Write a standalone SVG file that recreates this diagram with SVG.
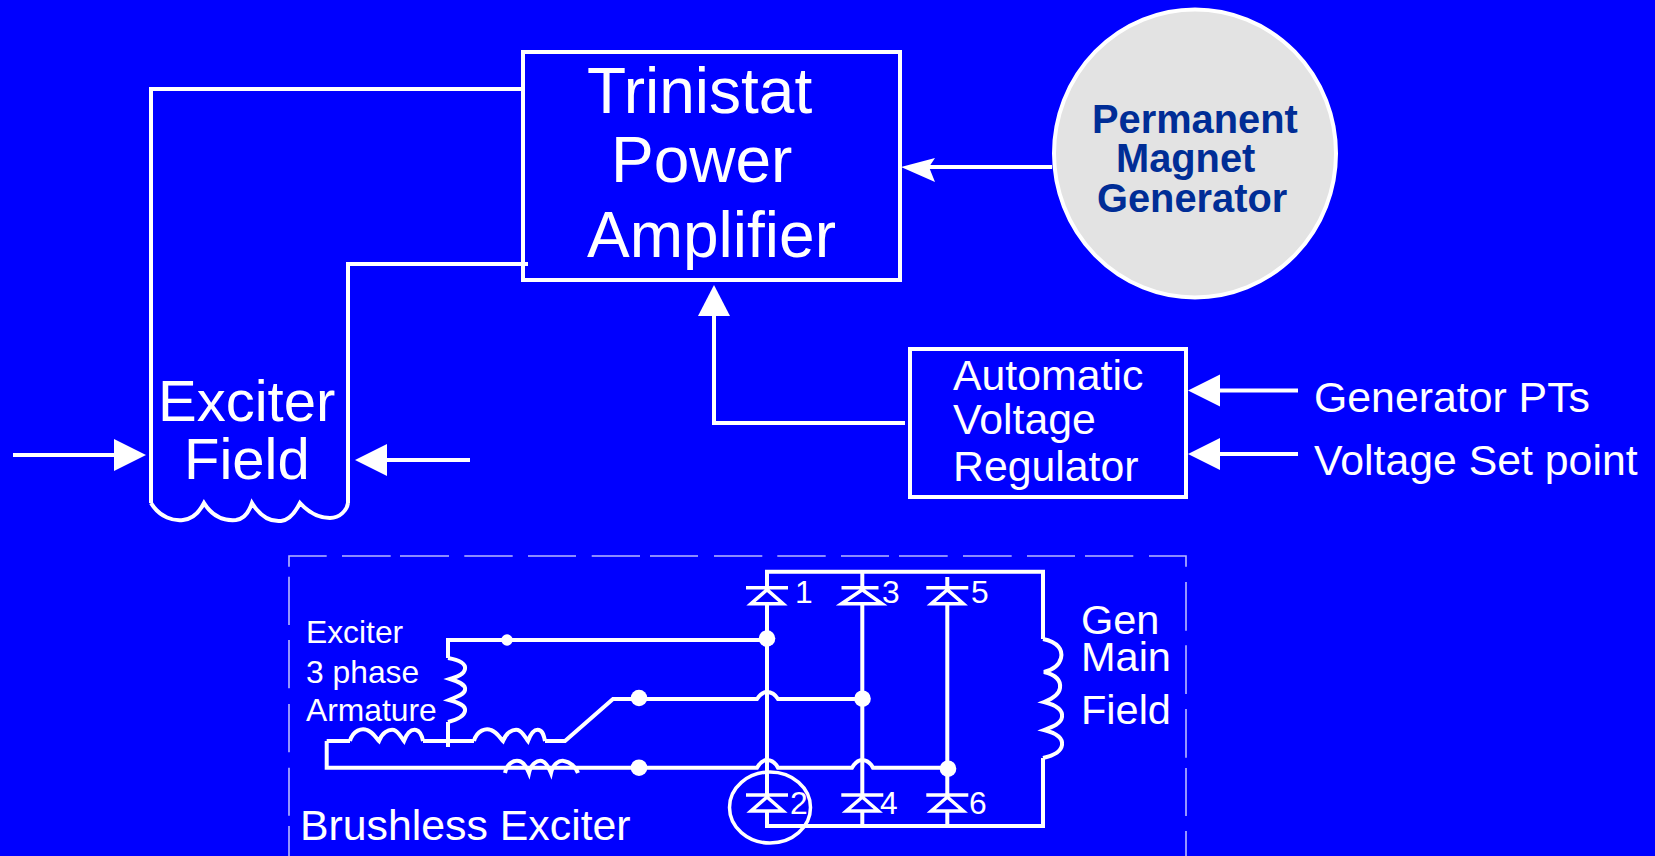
<svg xmlns="http://www.w3.org/2000/svg" width="1655" height="856" viewBox="0 0 1655 856">
<style>
text{font-family:"Liberation Sans",Arial,sans-serif;fill:#fff}
.b{fill:none;stroke:#fff;stroke-width:4}
.w{fill:none;stroke:#fff;stroke-width:4;stroke-linejoin:miter}
.t{fill:none;stroke:#fff;stroke-width:3.5}
.h{fill:#fff;stroke:none}
.d{fill:#fff;stroke:none}
.dash{fill:none;stroke:#b9b9ff;stroke-width:1.6}
.f63{font-size:64px}.f57{font-size:58px}.f42{font-size:42.800px}.f40{font-size:41.500px}.f31{font-size:31.800px}
.pm{font-size:39.800px;font-weight:bold;fill:#002d96}
</style>
<rect width="1655" height="856" fill="#0000ff"/>
<defs>
<g id="diode"><path class="t" d="M-21 0H21M0 2L-16 16H16Z"/></g>
</defs>

<g id="connectors">
<path class="w" d="M523 89H151V503M528 264H348V503"/>
<path class="w" d="M13 455H116M470 460H385"/>
<path class="h" d="M114 439L146 455L114 471ZM387 444L355 460L387 476Z"/>
<path class="w" d="M1052 167H925"/>
<path class="h" d="M901 167L935 158L929 167L935 182Z"/>
<path class="w" d="M905 423H714V314"/>
<path class="h" d="M714 285L730 316H698Z"/>
<path class="w" d="M1298 390.500H1218M1298 454H1218"/>
<path class="h" d="M1188 390.500L1220 374.500V406.500ZM1188 454L1220 438V470Z"/>
</g>

<g id="trinistat">
<rect class="b" x="523" y="52" width="377" height="228"/>
<text class="f63" x="587" y="113">Trinistat</text>
<text class="f63" x="611" y="182">Power</text>
<text class="f63" x="587" y="257">Amplifier</text>
</g>

<g id="pmg">
<ellipse cx="1195" cy="153.500" rx="141" ry="144" fill="#e3e3e3" stroke="#fff" stroke-width="4"/>
<text class="pm" x="1092" y="133">Permanent</text>
<text class="pm" x="1116" y="172">Magnet</text>
<text class="pm" x="1097" y="212">Generator</text>
</g>

<g id="avr">
<rect class="b" x="910" y="349" width="276" height="148"/>
<text class="f42" x="953" y="390">Automatic</text>
<text class="f42" x="953" y="434">Voltage</text>
<text class="f42" x="953" y="481">Regulator</text>
</g>

<g id="inputs">
<text class="f42" x="1314" y="412">Generator PTs</text>
<text class="f42" x="1314" y="475">Voltage Set point</text>
</g>

<g id="exciter-field">
<path class="b" d="M151 503C160 518 174 521 183 520C192 519 199 513 204 503C212 516 224 521 236 520C244 519 249 512 252 503C260 516 270 522 281 521C290 520 296 511 300 503C310 514 320 518 330 518C340 518 347 510 348 503"/>
<text class="f57" x="158" y="421">Exciter</text>
<text class="f57" x="184" y="479">Field</text>
</g>

<g id="brushless-exciter">
<path class="dash" d="M289 566.700V556H326.700M342 556H390.700M400 556H449M464.300 556H512.700M528 556H576M591.700 556H640M650 556H698M714 556H762.300M777.300 556H825.700M841 556H889M899 556H947.700M963 556H1011.700M1027 556H1075M1085 556H1133.300M1149 556H1186V566.700M289 576.700V625M289 640V688.300M289 704V752.300M289 767.700V815.700M289 826V856M1186 582V630.700M1186 645.300V694M1186 709V757.700M1186 768V816M1186 831V856"/>
<path class="w" d="M767 590V571.700H1043V639M1043 758V826H767V812M767 604V795M862.300 571.700V590M862.300 604V795M862.300 812V826M947.300 577V590M947.300 604V795M947.300 812V826"/>
<path class="w" d="M1043 639C1058 642 1063 650 1061 658C1059 666 1052 670 1044 672C1056 675 1061 681 1060 688C1059 695 1052 699 1044 702C1056 705 1063 710 1062 717C1061 724 1052 727 1044 730C1056 733 1063 738 1062 745C1061 752 1052 756 1043 758"/>
<use href="#diode" x="767" y="587.700"/>
<path class="t" d="M841.500 587.700H878.500M862.300 589.700L841.500 603.700H882Z"/>
<use href="#diode" x="947.300" y="587.700"/>
<use href="#diode" x="767" y="795"/>
<use href="#diode" x="862.300" y="795"/>
<use href="#diode" x="947.300" y="795"/>
<path class="w" d="M448 658V640H767M448 722V747M326.700 741H350M423 741H474M545 741H565L613 699H757C761 693 764 692 767 692C771 692 775 694 778 699H862M326.700 741V767.700H757C761 761 764 760 767 760C771 760 775 762 778 767.700H852C856 761 859 760 862 760C866 760 870 762 873 767.700H947"/>
<path class="w" d="M448 658C460 660 466 664 465 669C464 675 456 677 450 679C460 682 466 685 465 690C464 695 456 697 449 700C460 703 466 706 465 711C464 717 456 720 448 722"/>
<path class="w" d="M350 741C353 730 362 728 367 730C373 732 376 738 379 741C382 733 388 729 394 730C398 731 401 737 404 741C407 733 411 729 416 730C420 731 422 736 423 741"/>
<path class="w" d="M474 741C477 730 486 728 491 730C497 732 500 738 503 741C506 733 512 729 518 730C522 731 525 737 528 741C531 733 535 729 539 730C543 731 544 736 545 741"/>
<path class="w" d="M505 773C507 763 514 760 519 761C524 762 527 768 529 773C531 764 537 760 542 761C546 762 549 768 551 773C553 764 559 760 564 761C570 762 576 767 578 773" stroke-width="3.500"/>
<circle class="d" cx="767" cy="638.500" r="8.300"/>
<circle class="d" cx="862.500" cy="698.700" r="8.300"/>
<circle class="d" cx="948" cy="768.700" r="8.300"/>
<circle class="d" cx="507" cy="640" r="5.700"/>
<circle class="d" cx="639" cy="698" r="8.300"/>
<circle class="d" cx="639" cy="767.700" r="8.300"/>
<ellipse class="t" cx="770" cy="807.500" rx="40.500" ry="35.500"/>
<text class="f31" x="795" y="603">1</text>
<text class="f31" x="882" y="603">3</text>
<text class="f31" x="971" y="603">5</text>
<text class="f31" x="790" y="814">2</text>
<text class="f31" x="880" y="814">4</text>
<text class="f31" x="969" y="814">6</text>
<text class="f40" x="1081" y="634">Gen</text>
<text class="f40" x="1081" y="671">Main</text>
<text class="f40" x="1081" y="724">Field</text>
<text class="f31" x="306" y="643">Exciter</text>
<text class="f31" x="306" y="683">3 phase</text>
<text class="f31" x="306" y="721">Armature</text>
<text class="f42" x="300" y="840">Brushless Exciter</text>
</g>
</svg>
